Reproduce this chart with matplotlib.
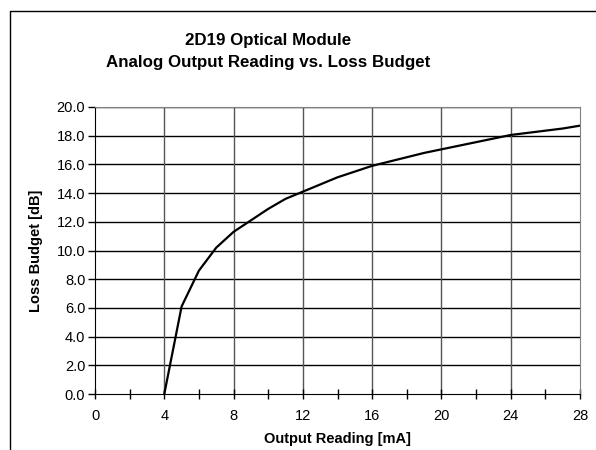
import numpy as np
import matplotlib
matplotlib.use('Agg')
from matplotlib import pyplot as plt
from matplotlib.lines import Line2D

# output reading [mA] vs loss budget [dB]
current_ma = [4, 5, 6, 7, 8, 9, 10, 11, 12, 13, 14, 15, 16, 17, 18, 19, 20,
              21, 22, 23, 24, 25, 26, 27, 28]
loss_db = [0.0, 6.1, 8.6, 10.2, 11.3, 12.1, 12.9, 13.6, 14.1, 14.6, 15.1, 15.5,
           15.9, 16.2, 16.5, 16.8, 17.05, 17.3, 17.55, 17.8, 18.05, 18.2, 18.35,
           18.5, 18.7]

x_ticks = [0, 4, 8, 12, 16, 20, 24, 28]
y_ticks = np.arange(0, 20.1, 2.0)

plt.rcParams['font.family'] = ['Liberation Sans', 'DejaVu Sans']

fig = plt.figure(figsize=(5.96, 4.5), dpi=100)
ax = fig.add_axes([95/596, 1-394/450, 485/596, 287/450])

ax.plot(current_ma, loss_db, color='black', lw=1.6, zorder=3)

ax.set_xlim(0, 28)
ax.set_ylim(0, 20)
ax.set_xticks(x_ticks)
ax.set_xticks(np.arange(0, 29, 2), minor=True)
ax.set_yticks(y_ticks)
ax.set_yticklabels(['%.1f' % v for v in y_ticks])

# gridlines: horizontal black, vertical grey
for v in y_ticks[1:]:
    ax.axhline(v, color='black', lw=1.0, zorder=1)
for v in x_ticks[1:-1]:
    ax.axvline(v, color='#555555', lw=1.0, zorder=1)

ax.tick_params(axis='x', which='both', direction='inout', length=7, width=1,
               labelsize=10.5, pad=7)
ax.tick_params(axis='y', direction='out', length=5, width=1, labelsize=10.5, pad=2)

for s in ['top', 'right']:
    ax.spines[s].set_color('#808080')
ax.spines['left'].set_color('black')
ax.spines['bottom'].set_color('black')
ax.spines['bottom'].set_zorder(4)

ax.set_xlabel('Output Reading [mA]', fontsize=10.5, fontweight='bold', labelpad=7)
ax.set_ylabel('Loss Budget [dB]', fontsize=10.5, fontweight='bold', labelpad=10)

fig.text(268/596, 1-41/450, '2D19 Optical Module', ha='center', va='center',
         fontsize=12.2, fontweight='bold')
fig.text(268/596, 1-63/450, 'Analog Output Reading vs. Loss Budget', ha='center',
         va='center', fontsize=12.2, fontweight='bold')

# chart area border
fig.add_artist(Line2D([9.5/596, 9.5/596, 1.05], [-0.05, 1-10.5/450, 1-10.5/450],
                      transform=fig.transFigure, color='black', lw=1.0))

fig.savefig('out.png', dpi=100)
